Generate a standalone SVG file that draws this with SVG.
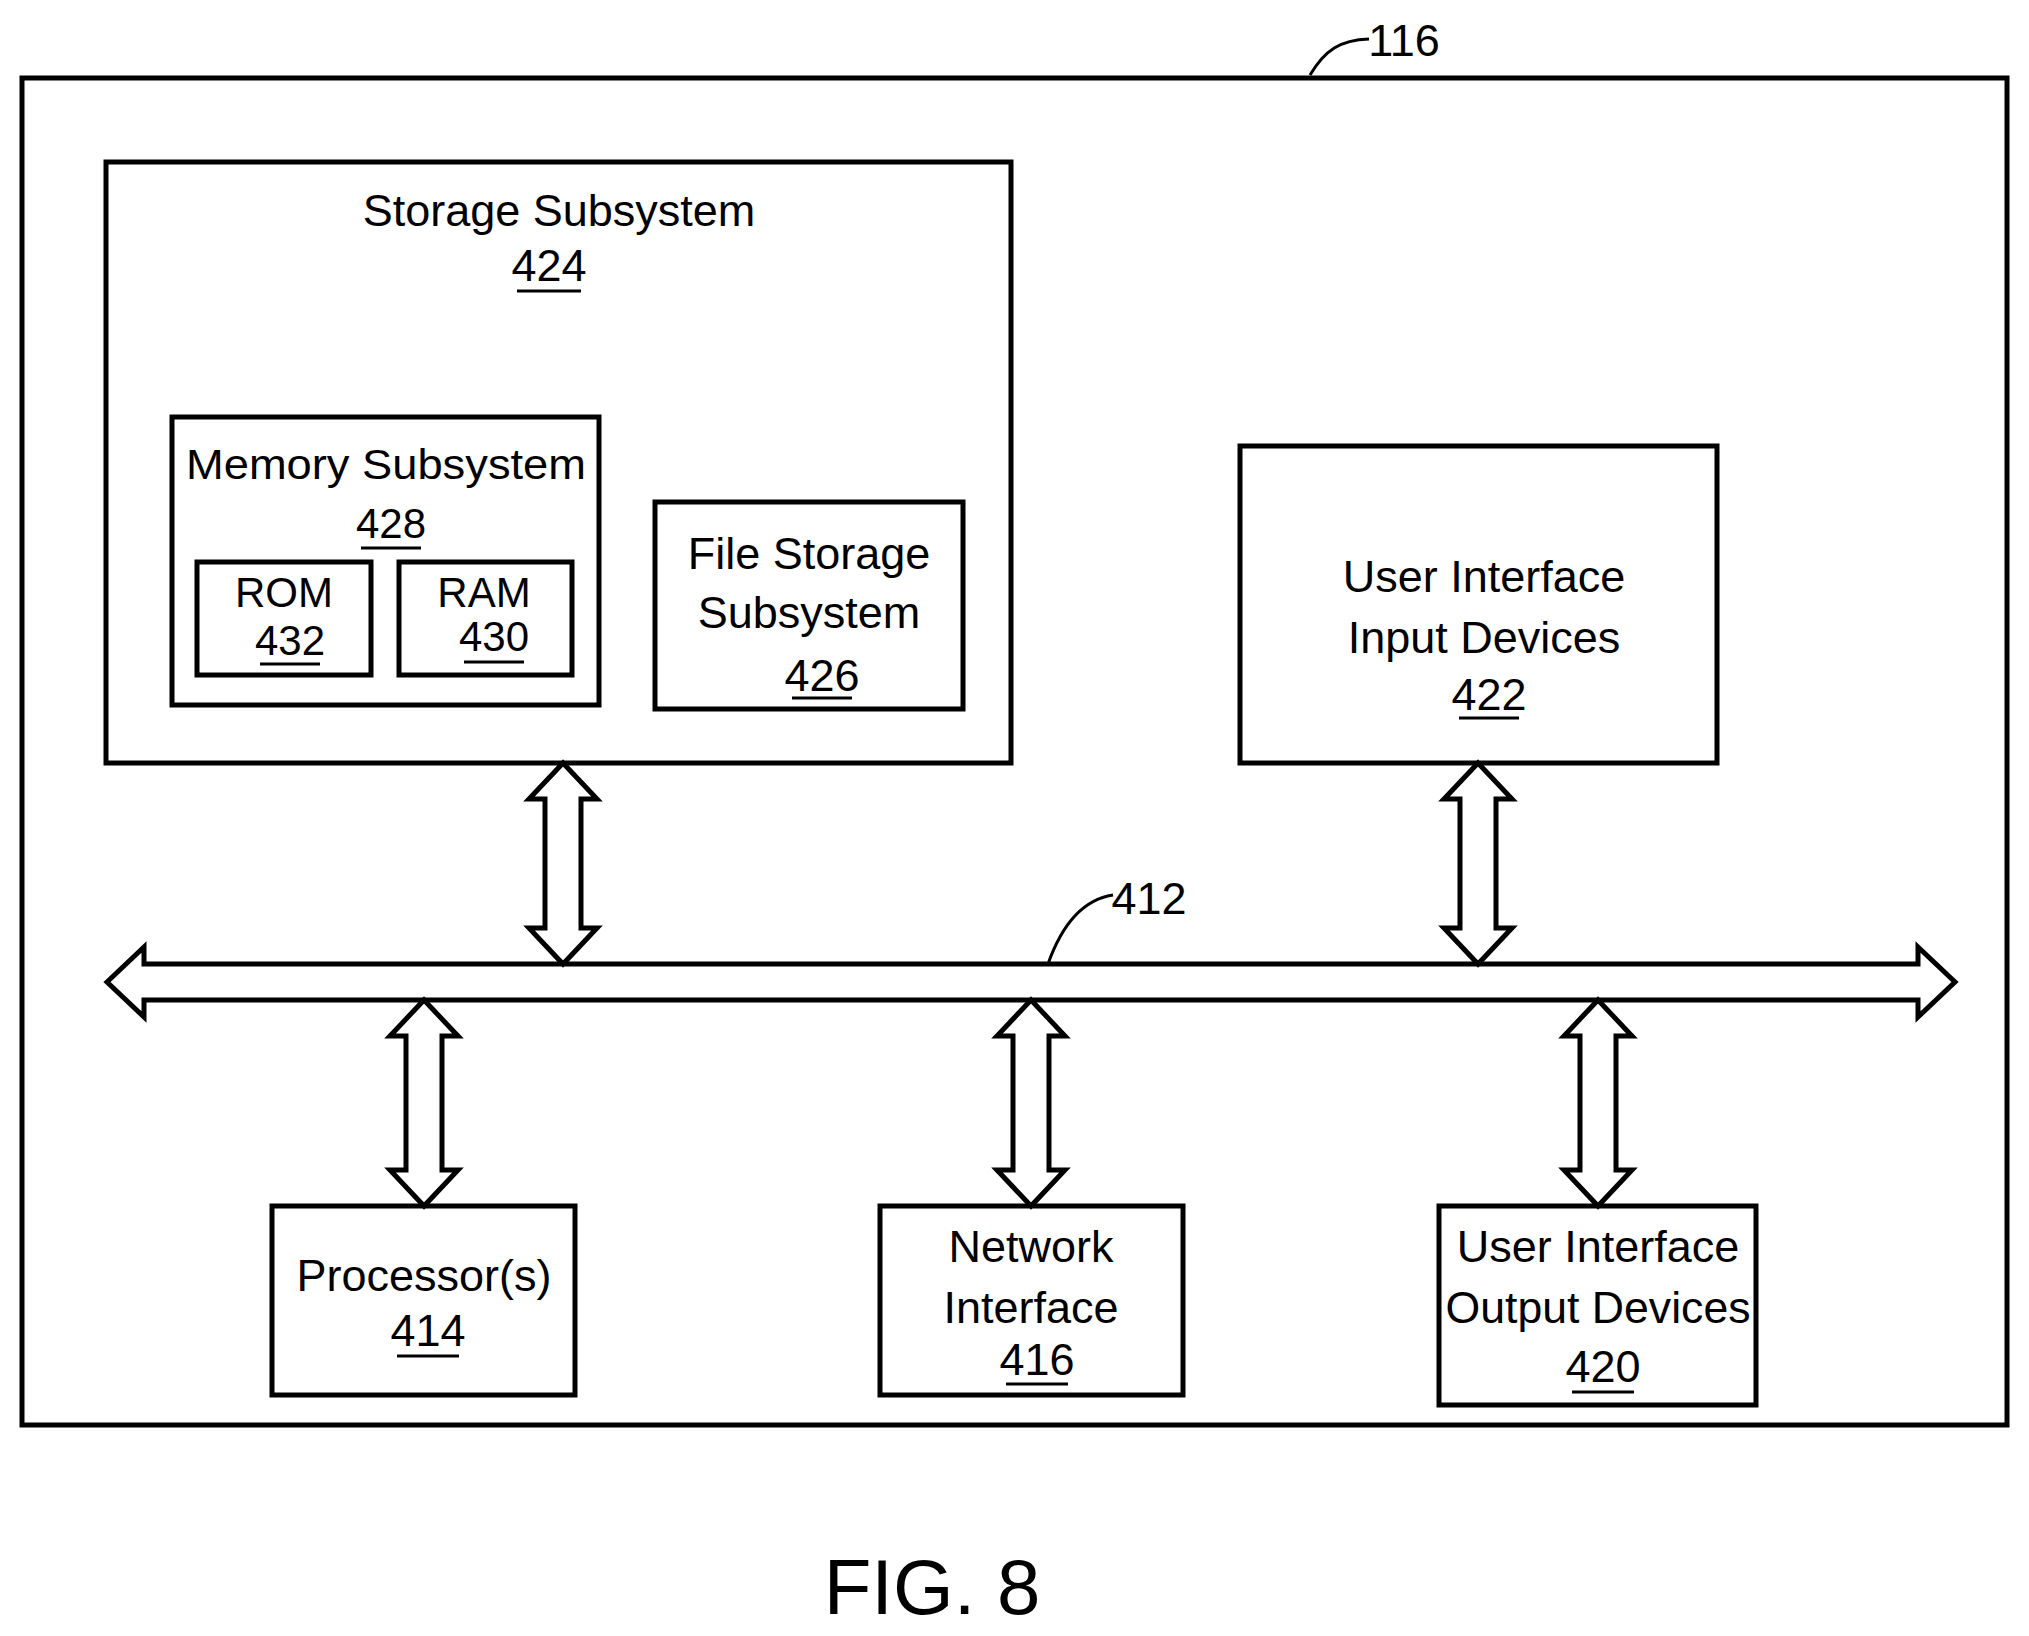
<svg xmlns="http://www.w3.org/2000/svg" width="2029" height="1636" viewBox="0 0 2029 1636">
<style>
.b{fill:#fff;stroke:#000;stroke-width:5}
.a{fill:#fff;stroke:#000;stroke-width:5;stroke-linejoin:miter}
.l{fill:none;stroke:#000;stroke-width:3}
text{font-family:"Liberation Sans Narrow","Liberation Sans",Arial,sans-serif;font-size:45px;text-anchor:middle;fill:#000}
.s{font-size:42px}
.u{stroke:#000;stroke-width:3}
</style>
<rect width="2029" height="1636" fill="#fff"/>
<g id="system116">
<rect class="b" x="22" y="78" width="1985" height="1347"/>
<path class="l" d="M1310,75 C1325,50 1340,40 1369,39"/>
<text x="1404" y="56">116</text>
</g>
<g id="storage424">
<rect class="b" x="106" y="162" width="905" height="601"/>
<text x="559" y="226">Storage Subsystem</text>
<text x="549" y="281">424</text><line class="u" x1="517" y1="291" x2="581" y2="291"/>
</g>
<g id="memory428">
<rect class="b" x="172" y="417" width="427" height="288"/>
<text class="s" x="386" y="479" textLength="400" lengthAdjust="spacingAndGlyphs">Memory Subsystem</text>
<text class="s" x="391" y="538">428</text><line class="u" x1="361" y1="548" x2="421" y2="548"/>
</g>
<g id="rom432">
<rect class="b" x="197" y="562" width="174" height="113"/>
<text class="s" x="284" y="607">ROM</text>
<text class="s" x="290" y="655">432</text><line class="u" x1="260" y1="664" x2="320" y2="664"/>
</g>
<g id="ram430">
<rect class="b" x="399" y="562" width="173" height="113"/>
<text class="s" x="484" y="607">RAM</text>
<text class="s" x="494" y="651">430</text><line class="u" x1="464" y1="662" x2="524" y2="662"/>
</g>
<g id="file426">
<rect class="b" x="655" y="502" width="308" height="207"/>
<text x="809" y="569">File Storage</text>
<text x="809" y="628">Subsystem</text>
<text x="822" y="691">426</text><line class="u" x1="792" y1="698" x2="852" y2="698"/>
</g>
<g id="uiin422">
<rect class="b" x="1240" y="446" width="477" height="317"/>
<text x="1484" y="592">User Interface</text>
<text x="1484" y="653">Input Devices</text>
<text x="1489" y="710">422</text><line class="u" x1="1459" y1="718" x2="1519" y2="718"/>
</g>
<g id="proc414">
<rect class="b" x="272" y="1206" width="303" height="189"/>
<text x="424" y="1291">Processor(s)</text>
<text x="428" y="1346">414</text><line class="u" x1="397" y1="1356" x2="459" y2="1356"/>
</g>
<g id="net416">
<rect class="b" x="880" y="1206" width="303" height="189"/>
<text x="1031" y="1262">Network</text>
<text x="1031" y="1323">Interface</text>
<text x="1037" y="1375">416</text><line class="u" x1="1006" y1="1384" x2="1068" y2="1384"/>
</g>
<g id="uiout420">
<rect class="b" x="1439" y="1206" width="317" height="199"/>
<text x="1598" y="1262">User Interface</text>
<text x="1598" y="1323" textLength="305" lengthAdjust="spacingAndGlyphs">Output Devices</text>
<text x="1603" y="1382">420</text><line class="u" x1="1572" y1="1392" x2="1634" y2="1392"/>
</g>
<g id="connectors">
<path class="a" d="M107,982 L144,947 L144,964 L1918,964 L1918,947 L1955,982 L1918,1017 L1918,1000 L144,1000 L144,1017Z"/>
<path class="a" d="M563,763 L597,799 L581,799 L581,928 L597,928 L563,964 L529,928 L545,928 L545,799 L529,799Z"/>
<path class="a" d="M1478,763 L1512,799 L1496,799 L1496,928 L1512,928 L1478,964 L1444,928 L1460,928 L1460,799 L1444,799Z"/>
<path class="a" d="M424,1000 L458,1036 L442,1036 L442,1170 L458,1170 L424,1206 L390,1170 L406,1170 L406,1036 L390,1036Z"/>
<path class="a" d="M1031,1000 L1065,1036 L1049,1036 L1049,1170 L1065,1170 L1031,1206 L997,1170 L1013,1170 L1013,1036 L997,1036Z"/>
<path class="a" d="M1598,1000 L1632,1036 L1616,1036 L1616,1170 L1632,1170 L1598,1206 L1564,1170 L1580,1170 L1580,1036 L1564,1036Z"/>
<path class="l" d="M1048,964 C1060,930 1080,900 1113,895"/>
<text x="1149" y="914">412</text>
</g>
<text x="932" y="1614" style="font-family:'Liberation Sans',Arial,sans-serif;font-size:78px">FIG. 8</text>
</svg>
